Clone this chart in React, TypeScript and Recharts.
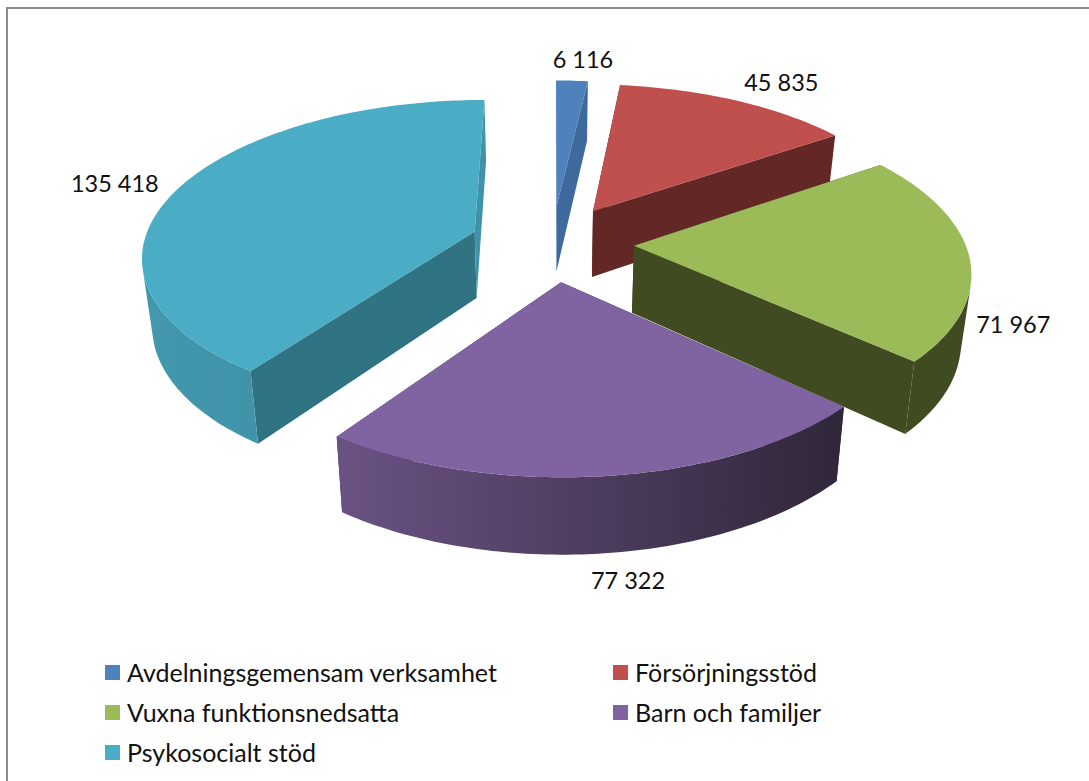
import { Legend, Pie, PieChart } from 'recharts'

const names = [
  'Avdelningsgemensam verksamhet',
  'Försörjningsstöd',
  'Vuxna funktionsnedsatta',
  'Barn och familjer',
  'Psykosocialt stöd',
]
const values = [6116, 45835, 71967, 77322, 135418]
const valueLabels = ['6 116', '45 835', '71 967', '77 322', '135 418']

const topColors = ['#4F81BD', '#C0504D', '#9BBB59', '#8064A2', '#4BACC6']
const cutColors = ['#3E6A9E', '#632725', '#414B22', '#332941', '#307382']
const backCutColors = ['#3E6A9E', '#632725', '#414B22', '#332941', '#3F93A9']
const wallFrom = ['#3E6A9E', '#632725', '#414B22', '#6A5384', '#4398AE']
const wallTo = ['#3E6A9E', '#632725', '#414B22', '#302639', '#3A8A9F']

// label nudges from the slice's outer edge, in screen pixels
const labelNudges = [
  [11, -22],
  [45, -19],
  [44, 67],
  [22, 104],
  [-64, -5],
]

const table = names.map((name, i) => ({ name, value: values[i], fill: topColors[i] }))

// fake 3D: the pie plane is tilted and seen in perspective
const EXPLODE = 82
const FOCAL = 2275
const TILT = 0.465
const DEPTH = 67
const DEPTH_PERSPECTIVE = 0.7
const BOTTOM_SHRINK = 0.975
const FONT = 'Lato, Carlito, sans-serif'

const rad = (deg: number) => (deg * Math.PI) / 180

function project(cx: number, cy: number, mid: number, theta: number, r: number, low = false) {
  const u = EXPLODE * Math.sin(rad(mid)) + r * Math.sin(rad(theta))
  const v = EXPLODE * Math.cos(rad(mid)) + r * Math.cos(rad(theta))
  const s = FOCAL / (FOCAL + v)
  const y = cy - TILT * v * s
  if (!low) return [cx + u * s, y]
  return [cx + u * s * BOTTOM_SHRINK, y + DEPTH * (1 + (s - 1) * DEPTH_PERSPECTIVE)]
}

const toPath = (pts: number[][]) =>
  pts.map((p, i) => `${i ? 'L' : 'M'}${p[0].toFixed(1)} ${p[1].toFixed(1)}`).join(' ') + ' Z'

// negative in screen coords means this bit of the outer wall faces the viewer
function signedArea(pts: number[][]) {
  return pts.reduce((sum, p, i) => {
    const q = pts[(i + 1) % pts.length]
    return sum + p[0] * q[1] - q[0] * p[1]
  }, 0)
}

function Slice3D(props: any) {
  const { cx, cy, outerRadius, startAngle, endAngle } = props
  const i = names.indexOf(props.payload?.name ?? props.name)
  const a = 90 - startAngle
  const b = 90 - endAngle
  const mid = (a + b) / 2
  const steps = Math.max(2, Math.ceil((b - a) / 1))
  const angles = Array.from({ length: steps + 1 }, (_, k) => a + ((b - a) * k) / steps)

  const topArc = angles.map((t) => project(cx, cy, mid, t, outerRadius))
  const lowArc = angles.map((t) => project(cx, cy, mid, t, outerRadius, true))
  const tip = project(cx, cy, mid, 0, 0)
  const lowTip = project(cx, cy, mid, 0, 0, true)
  const xs = topArc.map((p) => p[0])
  const gradId = `wall-${i}`

  const front = angles
    .map((_, k) => k)
    .filter(
      (k) =>
        k < steps && signedArea([topArc[k], topArc[k + 1], lowArc[k + 1], lowArc[k]]) < 0,
    )
  const wall =
    front.length > 0
      ? [
          ...topArc.slice(front[0], front[front.length - 1] + 2),
          ...lowArc.slice(front[0], front[front.length - 1] + 2).reverse(),
        ]
      : null

  return (
    <g>
      <defs>
        <linearGradient
          id={gradId}
          gradientUnits="userSpaceOnUse"
          x1={Math.min(...xs)}
          x2={Math.max(...xs)}
          y1={0}
          y2={0}
        >
          <stop offset="0%" stopColor={wallFrom[i]} />
          <stop offset="100%" stopColor={wallTo[i]} />
        </linearGradient>
      </defs>
      <path d={toPath([tip, topArc[0], lowArc[0], lowTip])} fill={cutColors[i]} />
      <path d={toPath([tip, topArc[steps], lowArc[steps], lowTip])} fill={backCutColors[i]} />
      {wall && <path d={toPath(wall)} fill={`url(#${gradId})`} />}
      <path d={toPath([tip, ...topArc])} fill={topColors[i]} />
    </g>
  )
}

function renderLabel(props: any) {
  const { cx, cy, outerRadius, startAngle, endAngle, index } = props
  const mid = 90 - (startAngle + endAngle) / 2
  const [x, y] = project(cx, cy, mid, mid, outerRadius)
  return (
    <text
      x={x + labelNudges[index][0]}
      y={y + labelNudges[index][1]}
      textAnchor="middle"
      dominantBaseline="central"
      fontFamily={FONT}
      fontSize={23.5}
      fill="#111"
    >
      {valueLabels[index]}
    </text>
  )
}

function LegendGrid({ payload }: any) {
  return (
    <div
      style={{
        display: 'grid',
        gridTemplateColumns: '508px 400px',
        gridAutoRows: '40px',
        fontFamily: FONT,
        fontSize: 25,
        color: '#111',
      }}
    >
      {(payload ?? []).map((item: any) => (
        <div key={item.value} style={{ display: 'flex', alignItems: 'center', gap: 7 }}>
          <span style={{ width: 15, height: 15, background: item.color, flex: 'none' }} />
          <span>{item.value}</span>
        </div>
      ))}
    </div>
  )
}

export default function App() {
  return (
    <div
      style={{
        position: 'absolute',
        left: 0,
        top: 0,
        width: 1089,
        height: 781,
        background: '#fff',
        overflow: 'hidden',
      }}
    >
      <div
        style={{
          position: 'absolute',
          left: 6,
          top: 7,
          width: 1083,
          height: 774,
          borderTop: '2px solid #8c8c8c',
          borderLeft: '2px solid #8c8c8c',
          boxSizing: 'border-box',
        }}
      />
      <div style={{ position: 'absolute', left: 0, top: 0 }}>
        <PieChart width={1089} height={781} margin={{ top: 0, right: 0, bottom: 0, left: 0 }}>
          <Pie
            data={table}
            dataKey="value"
            nameKey="name"
            cx={552}
            cy={243}
            innerRadius={0}
            outerRadius={331}
            startAngle={90}
            endAngle={-270}
            stroke="none"
            legendType="rect"
            isAnimationActive={false}
            shape={Slice3D}
            label={renderLabel}
            labelLine={false}
          />
          <Legend
            content={LegendGrid}
            itemSorter={null}
            wrapperStyle={{ left: 105, top: 652, bottom: 'auto', width: 908 }}
          />
        </PieChart>
      </div>
    </div>
  )
}
